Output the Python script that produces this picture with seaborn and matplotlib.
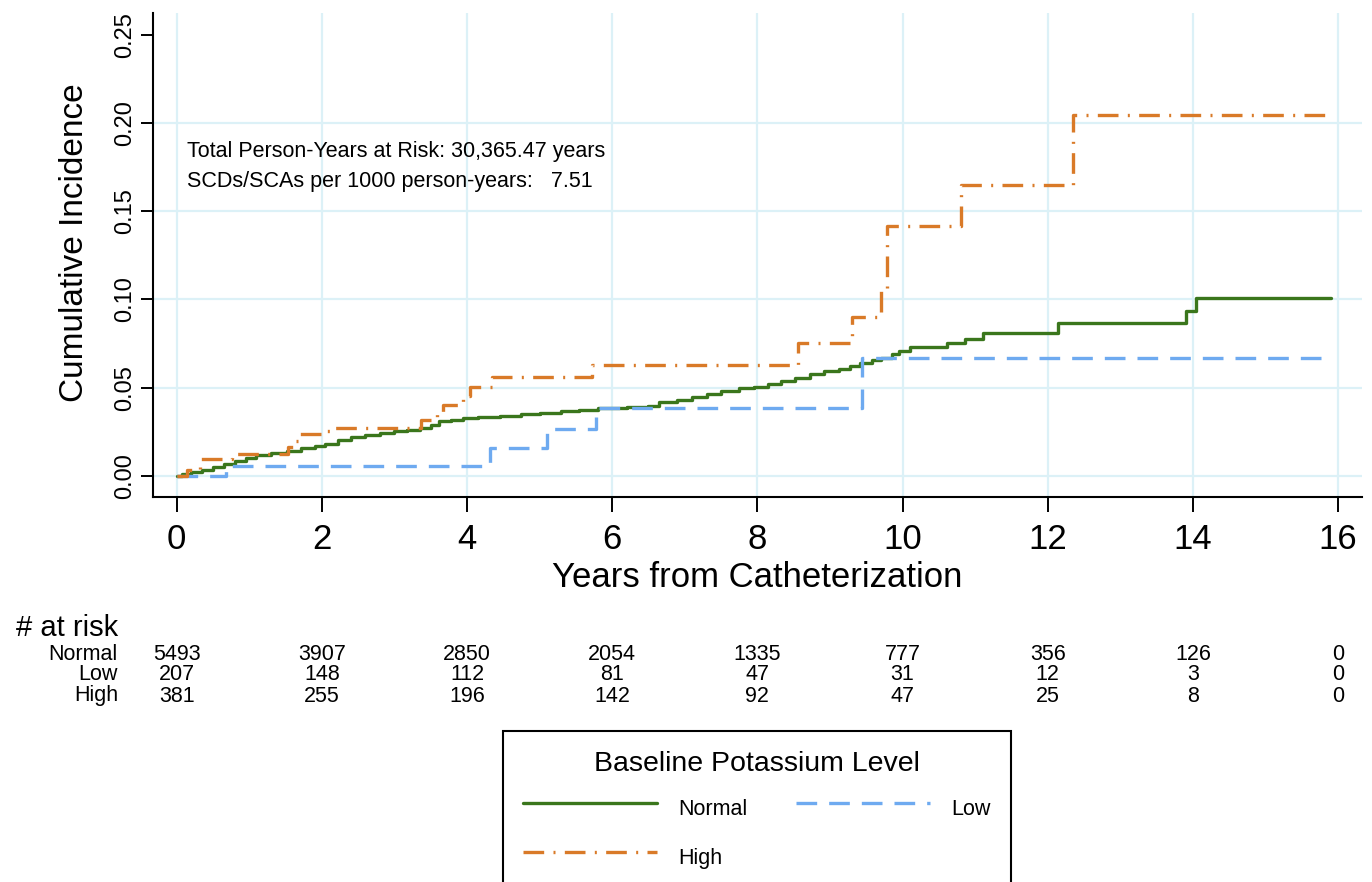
import numpy as np
import pandas as pd
import seaborn as sns
import matplotlib.pyplot as plt

# cumulative incidence of SCD/SCA by baseline potassium level

normal_years = [0.00, 0.08, 0.20, 0.35, 0.50, 0.65, 0.80, 0.95, 1.10, 1.30, 1.52, 1.72, 1.90,
                2.05, 2.22, 2.40, 2.60, 2.80, 3.00, 3.18, 3.35, 3.50, 3.62, 3.78, 3.95, 4.15,
                4.45, 4.75, 5.00, 5.30, 5.55, 5.80, 6.20, 6.50, 6.65, 6.90, 7.10, 7.30, 7.50,
                7.75, 7.95, 8.15, 8.32, 8.52, 8.72, 8.92, 9.13, 9.28, 9.42, 9.58, 9.70, 9.85,
                9.95, 10.10, 10.61, 10.86, 11.11, 12.14, 13.90, 14.04, 15.90]
normal_ci = [0.0000, 0.0010, 0.0020, 0.0035, 0.0050, 0.0065, 0.0085, 0.0100, 0.0115, 0.0128,
             0.0141, 0.0155, 0.0168, 0.0180, 0.0200, 0.0217, 0.0230, 0.0243, 0.0253, 0.0262,
             0.0273, 0.0290, 0.0308, 0.0318, 0.0328, 0.0334, 0.0341, 0.0348, 0.0357, 0.0366,
             0.0375, 0.0382, 0.0390, 0.0398, 0.0420, 0.0432, 0.0448, 0.0462, 0.0481, 0.0495,
             0.0505, 0.0520, 0.0536, 0.0556, 0.0579, 0.0592, 0.0606, 0.0622, 0.0640, 0.0656,
             0.0670, 0.0690, 0.0706, 0.0729, 0.0754, 0.0773, 0.0808, 0.0868, 0.0937, 0.1010,
             0.1010]

low_years = [0.00, 0.68, 4.32, 5.10, 5.78, 9.44, 15.90]
low_ci = [0.0000, 0.0057, 0.0157, 0.0263, 0.0382, 0.0669, 0.0669]

high_years = [0.00, 0.14, 0.32, 0.76, 1.53, 1.62, 1.67, 2.05, 2.12, 3.37, 3.59, 3.67, 3.94,
              4.04, 4.34, 5.72, 8.56, 9.31, 9.71, 9.78, 10.81, 12.35, 15.90]
high_ci = [0.0000, 0.0034, 0.0097, 0.0125, 0.0165, 0.0195, 0.0237, 0.0256, 0.0272, 0.0318,
           0.0360, 0.0403, 0.0455, 0.0506, 0.0562, 0.0628, 0.0755, 0.0903, 0.1057, 0.1416,
           0.1652, 0.2047, 0.2047]

# numbers at risk
risk_years = [0, 2, 4, 6, 8, 10, 12, 14, 16]
risk_normal = [5493, 3907, 2850, 2054, 1335, 777, 356, 126, 0]
risk_low = [207, 148, 112, 81, 47, 31, 12, 3, 0]
risk_high = [381, 255, 196, 142, 92, 47, 25, 8, 0]

groups = ['Normal', 'Low', 'High']
colors = {'Normal': '#3a761c', 'Low': '#6eaaf0', 'High': '#d97a28'}
dash_styles = {'Normal': '', 'Low': (6.2, 3.6), 'High': (6.2, 2.8, 0.6, 2.8)}

df = pd.concat([
    pd.DataFrame({'years': normal_years, 'ci': normal_ci, 'group': 'Normal'}),
    pd.DataFrame({'years': low_years, 'ci': low_ci, 'group': 'Low'}),
    pd.DataFrame({'years': high_years, 'ci': high_ci, 'group': 'High'}),
], ignore_index=True)

sns.set_style("ticks")
plt.rcParams['font.family'] = ['Liberation Sans', 'DejaVu Sans']
plt.rcParams['text.color'] = 'black'
plt.rcParams['axes.labelcolor'] = 'black'
plt.rcParams['xtick.color'] = 'black'
plt.rcParams['ytick.color'] = 'black'

W, H = 1372, 882
fig = plt.figure(figsize=(W / 100, H / 100), dpi=100)
ax = fig.add_axes([153 / W, 1 - 497 / H, (1362 - 153) / W, (497 - 13) / H])

xt = np.arange(0, 17, 2)
yt = [0.00, 0.05, 0.10, 0.15, 0.20, 0.25]
grid_col = '#dcf1f7'
for x in xt:
    ax.axvline(x, color=grid_col, lw=1.6, zorder=0)
for y in yt[:-1]:
    ax.axhline(y, color=grid_col, lw=1.6, zorder=0)

sns.lineplot(data=df, x='years', y='ci', hue='group', style='group', hue_order=groups,
             style_order=groups, palette=colors, dashes=dash_styles, drawstyle='steps-post',
             estimator=None, sort=False, lw=2.4, legend=False, ax=ax)

ax.set_xlim(-0.325, 16.33)
ax.set_ylim(-0.0121, 0.2626)
ax.set_xticks(xt)
ax.set_yticks(yt)
ax.set_yticklabels([f'{v:.2f}' for v in yt], rotation=90, va='center')
ax.tick_params(axis='x', length=10.5, width=1.4, pad=8, labelsize=25)
ax.tick_params(axis='y', length=8.5, width=1.4, pad=4, labelsize=17)
for s in ['top', 'right']:
    ax.spines[s].set_visible(False)
for s in ['left', 'bottom']:
    ax.spines[s].set_linewidth(1.5)
    ax.spines[s].set_color('black')

ax.set_xlabel('Years from Catheterization', fontsize=25, labelpad=4)
ax.set_ylabel('Cumulative Incidence', fontsize=24)
ax.yaxis.set_label_coords(-0.052, 0.525)

ax.text(0.14, 0.184, 'Total Person-Years at Risk: 30,365.47 years', fontsize=15.5,
        va='center', ha='left')
ax.text(0.14, 0.167, 'SCDs/SCAs per 1000 person-years:   7.51', fontsize=15.5,
        va='center', ha='left')

# number-at-risk table under the axis
fig.text(16 / W, 1 - 628 / H, '# at risk', fontsize=21, va='center', ha='left')
trans = ax.get_xaxis_transform()
rows = [('Normal', risk_normal, 654), ('Low', risk_low, 675), ('High', risk_high, 696)]
for name, counts, ypix in rows:
    fig.text(118 / W, 1 - ypix / H, name, fontsize=15.5, va='center', ha='right')
    for t, n in zip(risk_years, counts):
        ax.text(t, -(ypix - 497) / (497 - 13), str(n), transform=trans, fontsize=15.5,
                va='center', ha='center', clip_on=False)

lines = ax.get_lines()[-3:]
leg = fig.legend(handles=[lines[0], lines[2], lines[1]], labels=['Normal', 'High', 'Low'],
                 loc='upper left', bbox_to_anchor=(503 / W, 1 - 731 / H),
                 bbox_transform=fig.transFigure, borderaxespad=0, ncol=2,
                 title='Baseline Potassium Level', title_fontsize=20.5, fontsize=15.5,
                 handlelength=6.2, handleheight=2.2, handletextpad=1.0, columnspacing=2.25,
                 labelspacing=0.6, borderpad=0.95, frameon=True, fancybox=False,
                 edgecolor='black', framealpha=1)
leg.get_frame().set_linewidth(1.5)

fig.savefig('out.png', dpi=100)
